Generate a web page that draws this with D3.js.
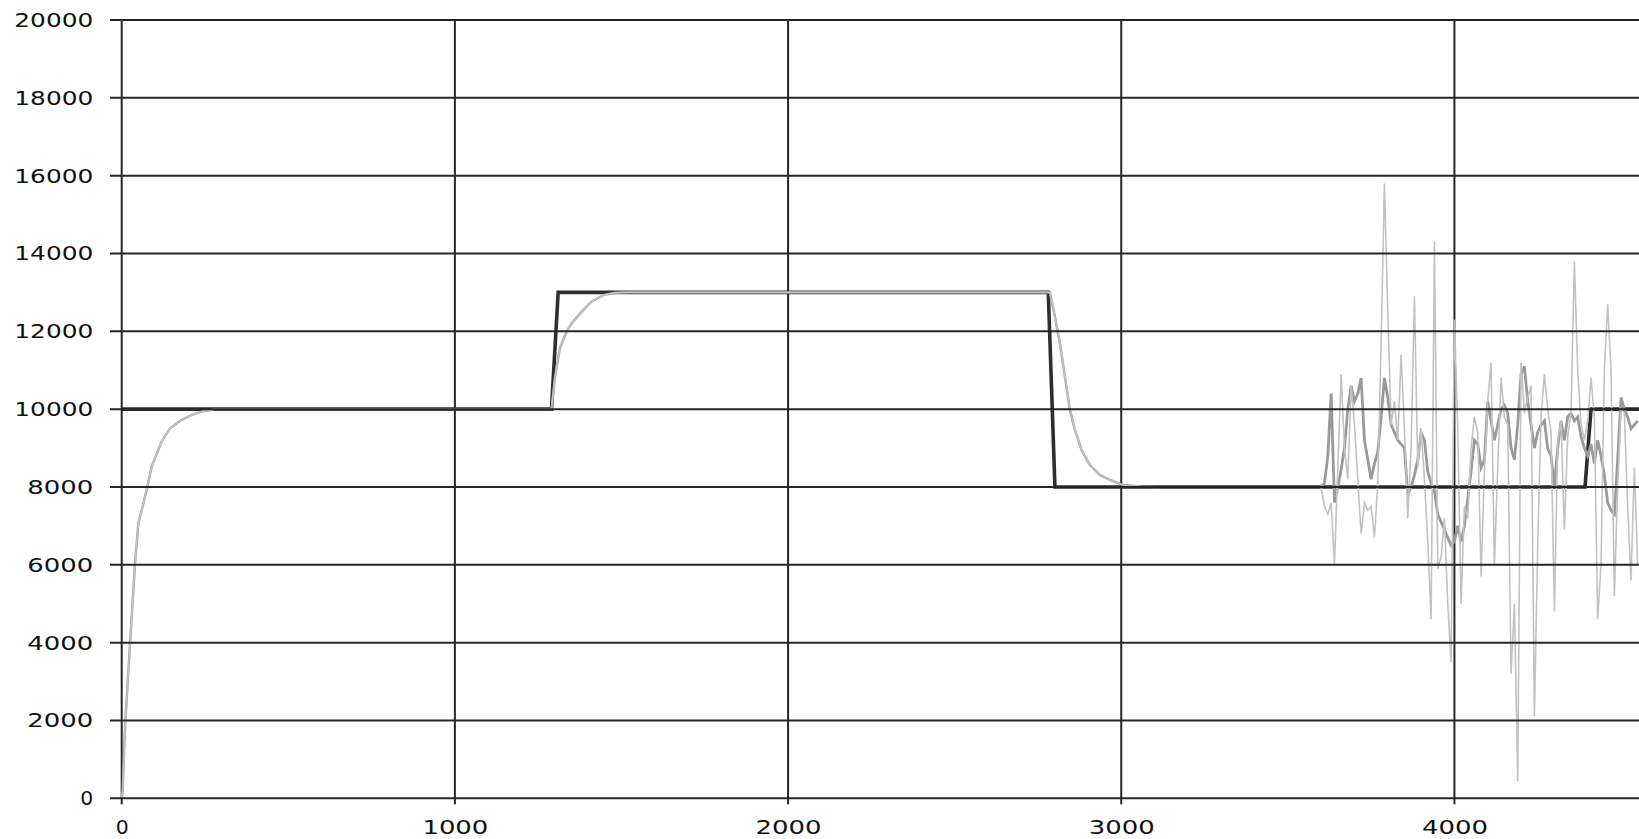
<!DOCTYPE html>
<html><head><meta charset="utf-8">
<script src="https://cdn.jsdelivr.net/npm/d3@7"></script>
<style>html,body{margin:0;padding:0;background:#fff;overflow:hidden}</style>
</head><body>
<svg id="chart" width="1639" height="839"></svg>
<script>
// ---- data ----
const yTickValues = [0,2000,4000,6000,8000,10000,12000,14000,16000,18000,20000];
const xTickValues = [0,1000,2000,3000,4000];

const setpointX = [0,1290,1310,2781,2801,4392,4410,4560];
const setpointY = [10000,10000,13000,13000,8000,8000,10000,10000];

const responseX = [0,3,10,25,40,50,75,90,120,145,180,210,240,280,1290,1300,1315,1335,1350,1380,1410,1445,1480,1520,2786,2801,2816,2831,2846,2861,2881,2906,2936,2966,3006,3060,3110];
const responseY = [0,200,1840,3985,6040,7070,7925,8525,9170,9510,9725,9850,9940,10000,10000,10800,11565,11990,12200,12500,12760,12930,12990,13000,13000,12375,11690,10835,9980,9465,8950,8565,8310,8180,8050,8010,8000];

const noiseX = [3600,3610,3620,3630,3640,3650,3660,3670,3680,3690,3700,3710,3720,3730,3740,3750,3760,3770,3780,3790,3800,3810,3820,3830,3840,3850,3860,3870,3880,3890,3900,3910,3920,3930,3940,3950,3960,3970,3980,3990,4000,4010,4020,4030,4040,4050,4060,4070,4080,4090,4100,4110,4120,4130,4140,4150,4160,4170,4180,4190,4200,4210,4220,4230,4240,4250,4260,4270,4280,4290,4300,4310,4320,4330,4340,4350,4360,4370,4380,4390,4400,4410,4420,4430,4440,4450,4460,4470,4480,4490,4500,4510,4520,4530,4540,4550];

const measuredY = [8000,7500,7300,7600,6000,8500,10900,9000,8200,10600,9600,8200,6800,7600,7400,7500,6700,8100,11700,15800,12500,9600,10200,9200,11400,9500,7200,9000,12900,8500,9500,8200,6600,4600,14300,5900,6200,7200,5000,3500,12300,9500,5000,7500,7200,9000,9800,9400,5700,8400,10200,11200,6000,8500,10800,9800,9600,3200,5000,440,11200,9900,10300,10600,2100,6500,9800,10900,10000,9400,4800,9200,9700,6900,9300,9900,13800,11000,9600,9200,9700,10800,9800,4600,6000,11000,12700,11000,5200,8000,10000,9900,7500,5600,8500,6000];

const filteredY = [8000,8100,8800,10400,7600,8000,8450,9000,10000,10600,10200,10400,10800,9200,8700,8200,8600,8900,9800,10800,10300,9600,9400,9200,9100,9000,7800,8000,8300,8700,9400,9200,8400,8100,7900,7300,7100,6900,6700,6500,6600,7000,6600,7000,7700,8400,9200,9100,8500,8700,10200,9700,9200,9600,10000,10100,9900,9000,8700,9600,10900,11100,10200,9600,9000,9400,9600,9700,9000,8800,8000,9000,9700,9200,9800,9900,9700,9800,9300,9000,8800,9100,8600,9200,8800,8300,7600,7400,7300,8700,10300,10000,9800,9500,9600,9700];

// ---- layout ----
const W = 1639, H = 839;
const x = d3.scaleLinear().domain([0, 4554]).range([121.7, 1639]);
const y = d3.scaleLinear().domain([0, 20000]).range([798.3, 20]);

const svg = d3.select('#chart');
svg.append('rect').attr('width', W).attr('height', H).attr('fill', '#fff');

const gridColor = '#262626';

// vertical gridlines (under series)
svg.append('g').selectAll('line').data(xTickValues).join('line')
  .attr('x1', d => x(d)).attr('x2', d => x(d))
  .attr('y1', y(20000)).attr('y2', y(0) + 6)
  .attr('stroke', gridColor).attr('stroke-width', 2);

const pts = (xs, ys) => xs.map((v, i) => [v, ys[i]]);
const line = d3.line().x(d => x(d[0])).y(d => y(d[1]));

// setpoint
svg.append('path').datum(pts(setpointX, setpointY))
  .attr('d', line).attr('fill', 'none').attr('stroke', '#2e2e2e').attr('stroke-width', 3.6)
  .attr('stroke-linejoin', 'miter');

// filtered / process value (medium gray)
[pts(responseX, responseY), pts(noiseX, filteredY)].forEach((data, i) => {
  svg.append('path').datum(data).attr('d', line).attr('fill', 'none')
    .attr('stroke', '#9a9a9a').attr('stroke-width', i === 0 ? 2.4 : 2.8);
});

// measured (light gray)
[pts(responseX, responseY), pts(noiseX, measuredY)].forEach((data, i) => {
  svg.append('path').datum(data).attr('d', line).attr('fill', 'none')
    .attr('stroke', '#c2c2c2').attr('stroke-width', i === 0 ? 1.6 : 1.6);
});

// horizontal gridlines (drawn over series)
svg.append('g').selectAll('line').data(yTickValues).join('line')
  .attr('x1', 110).attr('x2', W)
  .attr('y1', d => y(d)).attr('y2', d => y(d))
  .attr('stroke', gridColor).attr('stroke-width', 2);

// axes
const lenFor = s => ({1: 13, 4: 66, 5: 79})[s.length] || s.length * 16;

const yAxis = d3.axisLeft(y).tickValues(yTickValues).tickSize(0).tickPadding(28.4)
  .tickFormat(d3.format('d'));
const gy = svg.append('g').attr('transform', `translate(${x(0)},0)`).call(yAxis);
gy.select('.domain').remove();
gy.selectAll('text')
  .attr('font-family', 'DejaVu Sans, Verdana, sans-serif').attr('font-size', 20)
  .attr('fill', '#111')
  .attr('textLength', function(d){ return lenFor(String(d)); })
  .attr('lengthAdjust', 'spacingAndGlyphs');

const xAxis = d3.axisBottom(x).tickValues(xTickValues).tickSize(0).tickPadding(21.7)
  .tickFormat(d3.format('d'));
const gx = svg.append('g').attr('transform', `translate(0,${y(0)})`).call(xAxis);
gx.select('.domain').remove();
gx.selectAll('text')
  .attr('font-family', 'DejaVu Sans, Verdana, sans-serif').attr('font-size', 20)
  .attr('fill', '#111')
  .attr('textLength', function(d){ return lenFor(String(d)); })
  .attr('lengthAdjust', 'spacingAndGlyphs');
</script>
</body></html>
